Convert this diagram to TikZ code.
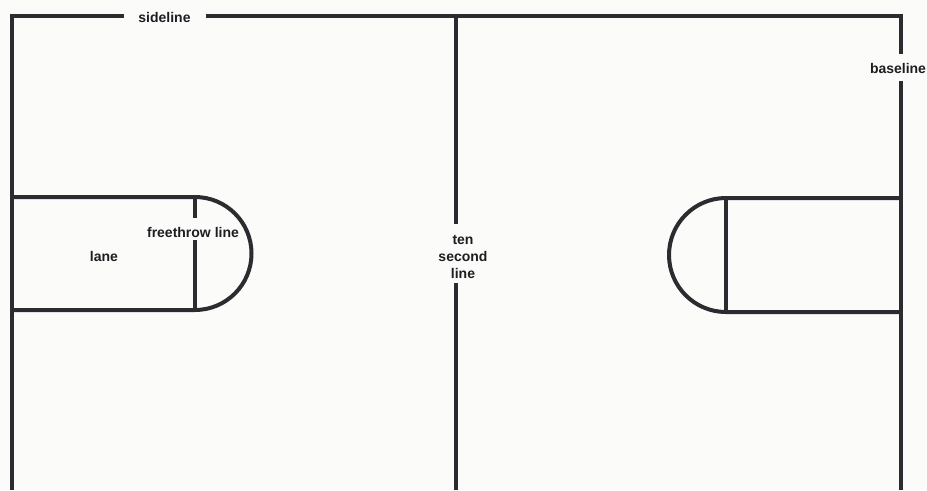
\documentclass[tikz,border=0pt]{standalone}
\usepackage{fontspec}
\setmainfont{Liberation Sans}
\begin{document}
\begin{tikzpicture}[x=0.75pt,y=-0.75pt,
  court/.style={draw=courtcol,line width=3pt},
  lbl/.style={font=\bfseries\fontsize{10.5}{13}\selectfont,text=labelcol,inner sep=0pt,align=center}]
\definecolor{courtcol}{HTML}{2B2B30}
\definecolor{labelcol}{HTML}{1E1E22}
\definecolor{bgcol}{HTML}{FBFBF9}
\fill[bgcol] (0,0) rectangle (927,490);
\useasboundingbox (0,0) rectangle (927,490);
% labels
\node[lbl] (side) at (164.5,17) {sideline};
\node[lbl] (base) at (898,68) {baseline};
\node[lbl] (ten) at (463,257) {ten\\second\\line};
\node[lbl] (ft) at (193,232) {freethrow line};
\node[lbl] (lane) at (104,256) {lane};
% outer lines
\coordinate (tl) at (12,16);
\coordinate (tr) at (901,16);
\draw[court] (124,16) -- (tl) -- (12,490);
\draw[court] (206,16) -- (tr) -- (901,54);
\draw[court] (901,81) -- (901,490);
% ten second line
\draw[court] (456,16) -- (456,224);
\draw[court] (456,283) -- (456,490);
% left lane
\draw[court] (12,197) -- (195,197) arc[start angle=-90,end angle=90,radius=56.5] -- (12,310);
\draw[court] (195,197) -- (195,218);
\draw[court] (195,240) -- (195,310);
% right lane
\draw[court] (901,198) -- (726,198) arc[start angle=-90,end angle=-270,radius=57] -- (901,312);
\draw[court] (726,198) -- (726,312);
\end{tikzpicture}
\end{document}
